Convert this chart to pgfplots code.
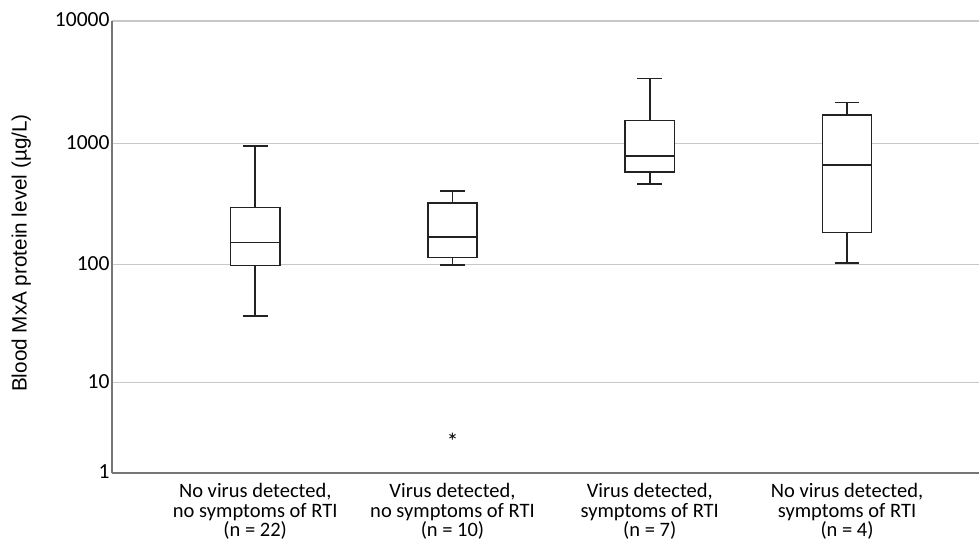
\documentclass[border=0pt]{standalone}
\usepackage{fontspec}
\setmainfont{Carlito}
\newfontfamily\arialfont{Liberation Sans}
\usepackage{pgfplots}
\pgfplotsset{compat=1.18}
\definecolor{gridc}{HTML}{C8C8C8}
\definecolor{axc}{HTML}{767676}
\definecolor{boxc}{HTML}{222222}
\tikzset{boxline/.style={draw=boxc, line width=1.5pt, mark=none, solid}}
\begin{document}
\begin{tikzpicture}
\path[use as bounding box] (-112pt,-70pt) rectangle (867pt,473pt);
\begin{axis}[
  at={(0pt,0pt)}, anchor=south west,
  width=867pt, height=452pt, scale only axis,
  xmin=-0.726, xmax=3.669,
  ymin=1, ymax=10000,
  y coord trafo/.code={\pgfmathparse{ln(#1+1)}},
  y coord inv trafo/.code={\pgfmathparse{exp(#1)-1}},
  ytick={1,10,100,1000,10000},
  yticklabels={1,10,100,1000,10000},
  xtick={0,1,2,3},
  xticklabels={{No virus detected,\\no symptoms of RTI\\(n = 22)},
               {Virus detected,\\no symptoms of RTI\\(n = 10)},
               {Virus detected,\\symptoms of RTI\\(n = 7)},
               {No virus detected,\\symptoms of RTI\\(n = 4)}},
  major tick length=0pt,
  axis x line*=bottom, axis y line*=left,
  axis line style={axc, line width=1.5pt, -},
  ymajorgrids, grid style={gridc, line width=1.2pt},
  yticklabel style={font=\fontsize{21.5}{22}\selectfont, xshift=1pt, yshift=1pt},
  xticklabel style={font=\fontsize{20.5}{19.5}\selectfont, align=center, anchor=north, yshift=-7pt},
  ylabel={Blood MxA protein level (µg/L)},
  every axis y label/.style={at={(axis description cs:-0.0984,0.4867)}, rotate=90, anchor=base, font=\arialfont\fontsize{20.7}{20.7}\selectfont},
]
% group 1 (n = 22)
\addplot[boxline] coordinates {(0,37.7) (0,98.4)};
\addplot[boxline] coordinates {(0,295.5) (0,947)};
\addplot[boxline] coordinates {(-0.0625,37.7) (0.0625,37.7)};
\addplot[boxline] coordinates {(-0.0625,947) (0.0625,947)};
\addplot[boxline, fill=white] coordinates {(-0.125,98.4) (0.125,98.4) (0.125,295.5) (-0.125,295.5)} -- cycle;
\addplot[boxline] coordinates {(-0.125,153.5) (0.125,153.5)};
% group 2 (n = 10)
\addplot[boxline] coordinates {(1,99.7) (1,115.4)};
\addplot[boxline] coordinates {(1,323) (1,407)};
\addplot[boxline] coordinates {(0.9375,99.7) (1.0625,99.7)};
\addplot[boxline] coordinates {(0.9375,407) (1.0625,407)};
\addplot[boxline, fill=white] coordinates {(0.875,115.4) (1.125,115.4) (1.125,323) (0.875,323)} -- cycle;
\addplot[boxline] coordinates {(0.875,169.7) (1.125,169.7)};
\addplot[only marks, mark=asterisk, mark size=3.5pt, mark options={boxc, line width=1pt}] coordinates {(1,3)};
% group 3 (n = 7)
\addplot[boxline] coordinates {(2,461) (2,581)};
\addplot[boxline] coordinates {(2,1528) (2,3372)};
\addplot[boxline] coordinates {(1.9375,461) (2.0625,461)};
\addplot[boxline] coordinates {(1.9375,3372) (2.0625,3372)};
\addplot[boxline, fill=white] coordinates {(1.875,581) (2.125,581) (2.125,1528) (1.875,1528)} -- cycle;
\addplot[boxline] coordinates {(1.875,781) (2.125,781)};
% group 4 (n = 4)
\addplot[boxline] coordinates {(3,104) (3,185)};
\addplot[boxline] coordinates {(3,1701) (3,2144)};
\addplot[boxline] coordinates {(2.9375,104) (3.0625,104)};
\addplot[boxline] coordinates {(2.9375,2144) (3.0625,2144)};
\addplot[boxline, fill=white] coordinates {(2.875,185) (3.125,185) (3.125,1701) (2.875,1701)} -- cycle;
\addplot[boxline] coordinates {(2.875,663) (3.125,663)};
\end{axis}
\end{tikzpicture}
\end{document}
